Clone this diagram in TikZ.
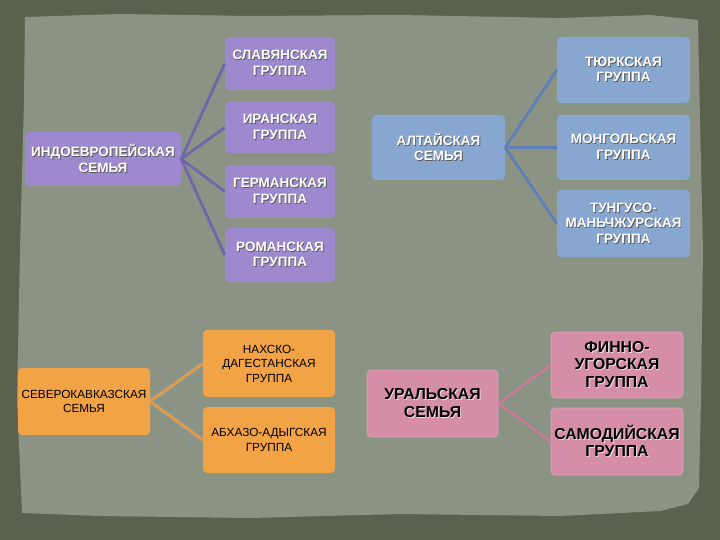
\documentclass[tikz,border=0pt]{standalone}
\usepackage{fontspec}
\setmainfont{Liberation Sans}
\definecolor{outerbg}{HTML}{5A624F}
\definecolor{paper}{HTML}{8B9384}
\definecolor{purplebox}{HTML}{9E89CF}
\definecolor{purpleline}{HTML}{6F66AC}
\definecolor{bluebox}{HTML}{88A7D0}
\definecolor{blueline}{HTML}{5F7EB8}
\definecolor{orangebox}{HTML}{F2A346}
\definecolor{orangeline}{HTML}{E69A45}
\definecolor{pinkbox}{HTML}{D68EA8}
\definecolor{pinkline}{HTML}{CC7C98}
\definecolor{halo}{HTML}{7FA2B4}
\newcommand{\shd}[2]{\leavevmode\rlap{\kern0.9pt\raisebox{-0.9pt}{\textcolor{#1}{#2}}}#2}
\newcommand{\ws}[1]{\shd{black!65}{#1}}
\newcommand{\bs}[1]{\shd{white!70!pinkbox}{#1}}
\tikzset{
  box/.style={rounded corners=4pt, inner sep=0pt, align=center},
  pbox/.style={box, fill=purplebox, text=white, font=\bfseries\fontsize{13.5}{15.5}\selectfont},
  bbox/.style={box, fill=bluebox, text=white, font=\bfseries\fontsize{13.5}{15.5}\selectfont},
  obox/.style={box, fill=orangebox, text=black, font=\fontsize{11.8}{14.5}\selectfont},
  kbox/.style={box, fill=pinkbox, draw=pinkbox!80!white, line width=0.6pt, text=black, font=\bfseries\fontsize{15.8}{17.5}\selectfont},
  pline/.style={draw=purpleline, line width=2.8pt},
  bline/.style={draw=blueline, line width=2.8pt},
  oline/.style={draw=orangeline, line width=2.8pt, preaction={draw=halo, opacity=0.45, line width=6pt}},
  kline/.style={draw=pinkline, line width=2.4pt}
}
\begin{document}
\begin{tikzpicture}[x=1pt, y=-1pt]
\useasboundingbox (0,0) rectangle (720,540);
\fill[outerbg] (0,0) rectangle (720,540);
\fill[paper] (25,17) -- (120,14) -- (250,16) -- (400,15) -- (560,18) -- (650,15) -- (698,20)
  -- (700,120) -- (703,250) -- (701,400) -- (699,488) -- (688,504) -- (660,511) -- (560,516)
  -- (400,514) -- (250,518) -- (100,516) -- (22,513) -- (17,400) -- (20,250) -- (24,100) -- cycle;

% Indo-European
\node[pbox, minimum width=156pt, minimum height=54pt] (ie) at (103,159) {\ws{ИНДОЕВРОПЕЙСКАЯ}\\\ws{СЕМЬЯ}};
\node[pbox, minimum width=110pt, minimum height=53pt] (slav) at (280,63.5) {\ws{СЛАВЯНСКАЯ}\\\ws{ГРУППА}};
\node[pbox, minimum width=110pt, minimum height=51pt] (iran) at (280,127.5) {\ws{ИРАНСКАЯ}\\\ws{ГРУППА}};
\node[pbox, minimum width=110pt, minimum height=53pt] (germ) at (280,191.5) {\ws{ГЕРМАНСКАЯ}\\\ws{ГРУППА}};
\node[pbox, minimum width=110pt, minimum height=54pt] (rom) at (280,255) {\ws{РОМАНСКАЯ}\\\ws{ГРУППА}};
\draw[pline] (ie.east) -- (slav.west);
\draw[pline] (ie.east) -- (iran.west);
\draw[pline] (ie.east) -- (germ.west);
\draw[pline] (ie.east) -- (rom.west);

% Altaic
\node[bbox, minimum width=133pt, minimum height=65pt] (alt) at (438.5,147.5) {\ws{АЛТАЙСКАЯ}\\\ws{СЕМЬЯ}};
\node[bbox, minimum width=133pt, minimum height=66pt] (turk) at (623.5,70) {\ws{ТЮРКСКАЯ}\\\ws{ГРУППА}};
\node[bbox, minimum width=133pt, minimum height=65pt] (mong) at (623.5,147.5) {\ws{МОНГОЛЬСКАЯ}\\\ws{ГРУППА}};
\node[bbox, minimum width=133pt, minimum height=67pt] (tung) at (623.5,223.5) {\ws{ТУНГУСО-}\\\ws{МАНЬЧЖУРСКАЯ}\\\ws{ГРУППА}};
\draw[bline] (alt.east) -- (turk.west);
\draw[bline] (alt.east) -- (mong.west);
\draw[bline] (alt.east) -- (tung.west);

% North Caucasian
\draw[oline] (150,401.5) -- (203,363.5);
\draw[oline] (150,401.5) -- (203,440);
\node[obox, minimum width=132pt, minimum height=67pt] (nc) at (84,401.5) {СЕВЕРОКАВКАЗСКАЯ\\СЕМЬЯ};
\node[obox, minimum width=132pt, minimum height=67pt] (nakh) at (269,363.5) {НАХСКО-\\ДАГЕСТАНСКАЯ\\ГРУППА};
\node[obox, minimum width=132pt, minimum height=66pt] (abkh) at (269,440) {АБХАЗО-АДЫГСКАЯ\\ГРУППА};

% Uralic
\node[kbox, minimum width=131pt, minimum height=67pt] (ural) at (432.5,403.5) {\bs{УРАЛЬСКАЯ}\\\bs{СЕМЬЯ}};
\node[kbox, minimum width=132pt, minimum height=66pt] (finn) at (617,365) {\bs{ФИННО-}\\\bs{УГОРСКАЯ}\\\bs{ГРУППА}};
\node[kbox, minimum width=132pt, minimum height=67pt] (samo) at (617,441.5) {\bs{САМОДИЙСКАЯ}\\\bs{ГРУППА}};
\draw[kline] (ural.east) -- (finn.west);
\draw[kline] (ural.east) -- (samo.west);
\end{tikzpicture}
\end{document}
